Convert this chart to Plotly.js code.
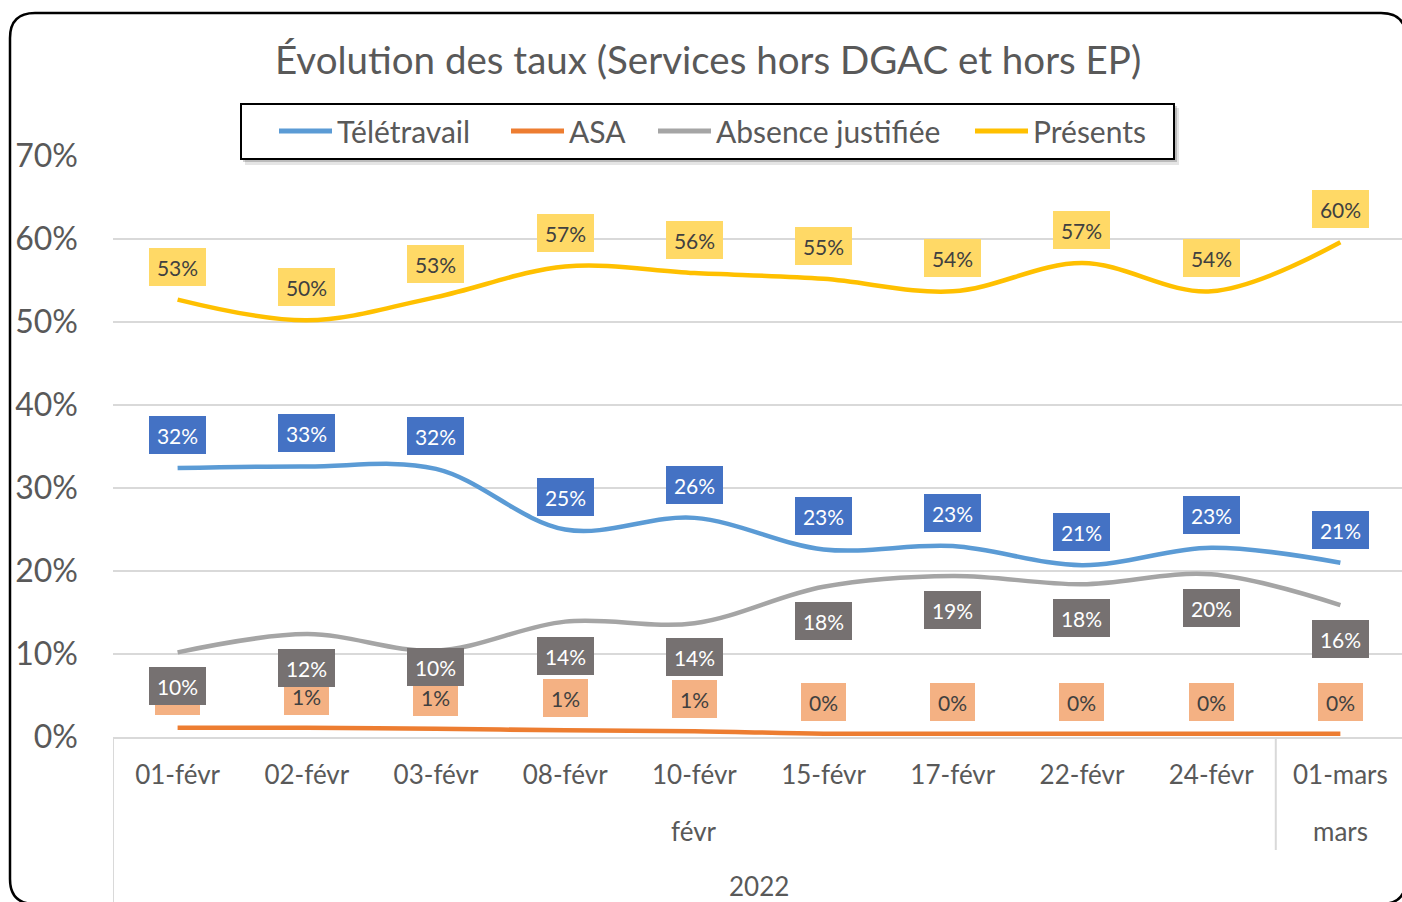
<!DOCTYPE html>
<html>
<head>
<meta charset="utf-8">
<script src="https://cdn.plot.ly/plotly-3.0.1.min.js"></script>
<style>
html,body{margin:0;padding:0;background:#fff;}
#chart{width:1402px;height:902px;}
</style>
</head>
<body>
<div id="chart"></div>
<script>
// ---- data ----
const categories = ['01-févr','02-févr','03-févr','08-févr','10-févr','15-févr','17-févr','22-févr','24-févr','01-mars'];
const months = ['févr','févr','févr','févr','févr','févr','févr','févr','févr','mars'];
const year = '2022';
const seriesNames = ['Télétravail','ASA','Absence justifiée','Présents'];
const teletravail = [0.324,0.326,0.323,0.250,0.264,0.226,0.230,0.207,0.228,0.210];
const asa         = [0.011,0.011,0.010,0.008,0.007,0.004,0.004,0.004,0.004,0.004];
const absence     = [0.102,0.124,0.104,0.139,0.137,0.181,0.194,0.184,0.196,0.159];
const presents    = [0.527,0.502,0.530,0.567,0.559,0.552,0.537,0.571,0.537,0.596];
const chartTitle = 'Évolution des taux (Services hors DGAC et hors EP)';

// ---- styles ----
const FONT = 'Lato, "Open Sans", sans-serif';
const TXT = '#595959';
const lineColors = ['#5B9BD5','#ED7D31','#A5A5A5','#FFC000'];
const boxColors  = ['#4472C4','#F4B183','#767171','#FFD966'];
const boxText    = ['#ffffff','#404040','#ffffff','#404040'];
const labelShift = [33, 32, -34, 33];
// label positions moved individually in the original chart: {series:{index:shift}}
const labelShiftOverride = {2:{2:-16}};
const allSeries = [teletravail, asa, absence, presents];

const W = 1402, H = 902;
const M = {l:113, r:0, t:156, b:165};
const PW = W - M.l - M.r, PH = H - M.t - M.b;
const px = x => (x - M.l) / PW;
const py = y => 1 - (y - M.t) / PH;

const traces = allSeries.map((vals, i) => ({
  type:'scatter', mode:'lines', x:categories, y:vals, name:seriesNames[i],
  line:{color:lineColors[i], width:4.5, shape:'spline', smoothing:1},
  hoverinfo:'skip', showlegend:false
}));

const annotations = [];
// data labels
allSeries.forEach((vals, s) => {
  vals.forEach((v, i) => {
    const t = Math.round(v*100) + '%';
    const sh = (labelShiftOverride[s] && labelShiftOverride[s][i] !== undefined) ? labelShiftOverride[s][i] : labelShift[s];
    annotations.push({
      xref:'x', yref:'y', x:i, y:v, yshift:sh,
      text:t, showarrow:false, xanchor:'center', yanchor:'middle',
      bgcolor:boxColors[s], borderwidth:0, borderpad:5,
      width: t.length === 2 ? 35 : 47, height:28,
      font:{family:FONT, size:21, color:boxText[s]}
    });
  });
});

// group labels (months) and year
const groups = [];
months.forEach((m, i) => {
  if (!groups.length || groups[groups.length-1].name !== m) groups.push({name:m, start:i, end:i});
  else groups[groups.length-1].end = i;
});
groups.forEach(g => {
  annotations.push({xref:'x', yref:'paper', x:(g.start+g.end)/2, y:py(831),
    text:g.name, showarrow:false, xanchor:'center', yanchor:'middle',
    font:{family:FONT, size:26, color:TXT}});
});
annotations.push({xref:'x', yref:'paper', x:(categories.length-1)/2, y:py(886),
  text:year, showarrow:false, xanchor:'center', yanchor:'middle',
  font:{family:FONT, size:26, color:TXT}});

// title
annotations.push({xref:'paper', yref:'paper', x:px(708), y:py(59), text:chartTitle,
  showarrow:false, xanchor:'center', yanchor:'middle',
  font:{family:FONT, size:38.5, color:TXT}});

// custom legend
const legSample = [278, 510, 657, 974];
const legY = 131;
const shapes = [];
// frame
(function(){
  const x0=10, y0=13, x1=1406, y1=904, r=25;
  const path = `M ${px(x0+r)},${py(y0)} L ${px(x1-r)},${py(y0)} Q ${px(x1)},${py(y0)} ${px(x1)},${py(y0+r)} ` +
    `L ${px(x1)},${py(y1-r)} Q ${px(x1)},${py(y1)} ${px(x1-r)},${py(y1)} L ${px(x0+r)},${py(y1)} ` +
    `Q ${px(x0)},${py(y1)} ${px(x0)},${py(y1-r)} L ${px(x0)},${py(y0+r)} Q ${px(x0)},${py(y0)} ${px(x0+r)},${py(y0)} Z`;
  shapes.push({type:'path', xref:'paper', yref:'paper', path:path, line:{color:'#000', width:2.5}, layer:'below'});
})();
// group separators
shapes.push({type:'line', xref:'x', yref:'paper', x0:-0.5, x1:-0.5, y0:py(737), y1:py(905), line:{color:'#d9d9d9', width:2}});
groups.slice(1).forEach(g => {
  shapes.push({type:'line', xref:'x', yref:'paper', x0:g.start-0.5, x1:g.start-0.5, y0:py(737), y1:py(850), line:{color:'#d9d9d9', width:2}});
});
// legend shadow + box
shapes.push({type:'rect', xref:'paper', yref:'paper', x0:px(245), x1:px(1179), y0:py(108), y1:py(165), fillcolor:'rgba(0,0,0,0.10)', line:{width:0}, layer:'above'});
shapes.push({type:'rect', xref:'paper', yref:'paper', x0:px(243), x1:px(1177), y0:py(106), y1:py(162), fillcolor:'rgba(0,0,0,0.18)', line:{width:0}, layer:'above'});
shapes.push({type:'rect', xref:'paper', yref:'paper', x0:px(241), x1:px(1174), y0:py(104), y1:py(159), fillcolor:'#fff', line:{color:'#000', width:2}, layer:'above'});
seriesNames.forEach((n, i) => {
  shapes.push({type:'line', xref:'paper', yref:'paper', x0:px(legSample[i]+1), x1:px(legSample[i]+54), y0:py(legY), y1:py(legY),
    line:{color:lineColors[i], width:5}, layer:'above'});
  annotations.push({xref:'paper', yref:'paper', x:px(legSample[i]+57), y:py(legY), text:n, showarrow:false,
    xanchor:'left', yanchor:'middle', font:{family:FONT, size:30, color:TXT}});
});

const layout = {
  width:W, height:H, margin:M, paper_bgcolor:'#fff', plot_bgcolor:'#fff',
  showlegend:false,
  xaxis:{type:'category', range:[-0.5, 9.477], showgrid:false, zeroline:false,
    showline:true, linecolor:'#d9d9d9', linewidth:2, ticks:'', ticklabelstandoff:14,
    tickfont:{family:FONT, size:26, color:TXT}, fixedrange:true},
  yaxis:{range:[0,0.7], dtick:0.1, tick0:0, tickformat:'.0%', showgrid:true, gridcolor:'#d9d9d9', gridwidth:1.5,
    zeroline:false, showline:false, ticks:'', ticklabelstandoff:34,
    tickfont:{family:FONT, size:32, color:TXT}, fixedrange:true},
  shapes:shapes, annotations:annotations
};
Plotly.newPlot('chart', traces, layout, {staticPlot:true, displayModeBar:false});
</script>
</body>
</html>
